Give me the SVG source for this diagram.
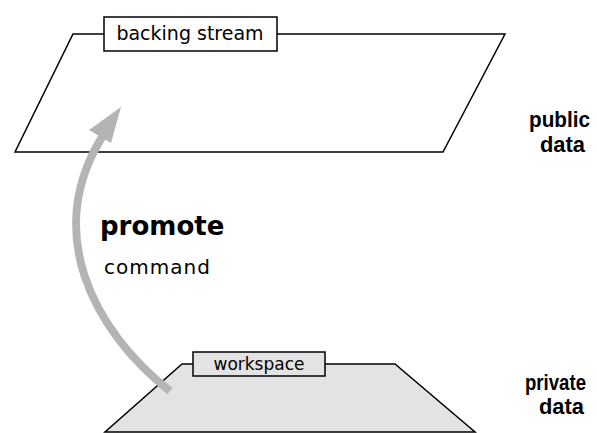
<svg xmlns="http://www.w3.org/2000/svg" width="597" height="433" viewBox="0 0 597 433">
<style>
.plane{stroke:#000;stroke-width:1.5;stroke-linejoin:miter}
.lbl{font-family:"DejaVu Sans",Verdana,sans-serif;fill:#000}
.side{font-family:"Liberation Sans",Arial,sans-serif;font-weight:bold;font-size:22px;fill:#000}
.box{stroke:#000;stroke-width:1.5}
</style>
<rect width="597" height="433" fill="#fff"/>
<g id="public-plane">
<polygon class="plane" points="73,34 505,34 443,152 15,152" fill="#fff"/>
</g>
<g id="backing-stream">
<rect class="box" x="104" y="17" width="173" height="34" fill="#fff"/>
<text class="lbl" x="190" y="40" font-size="19" text-anchor="middle">backing stream</text>
</g>
<g id="public-data">
<text class="side" x="529" y="127" textLength="61" lengthAdjust="spacingAndGlyphs">public</text>
<text class="side" x="540" y="152" textLength="45" lengthAdjust="spacingAndGlyphs">data</text>
</g>
<g id="private-plane">
<polygon class="plane" points="182,364 395,364 475,432 105,432" fill="#e3e3e3"/>
</g>
<g id="workspace">
<rect class="box" x="193" y="352" width="132" height="24" fill="#e3e3e3"/>
<text class="lbl" x="259" y="370" font-size="17" text-anchor="middle">workspace</text>
</g>
<g id="private-data">
<text class="side" x="525" y="390" textLength="61" lengthAdjust="spacingAndGlyphs">private</text>
<text class="side" x="539" y="414" textLength="45" lengthAdjust="spacingAndGlyphs">data</text>
</g>
<g id="connectors">
<path d="M170,391 C92,330 42,230 104,134" fill="none" stroke="#b4b4b4" stroke-width="8"/>
<polygon points="121,107 89,130 111,143" fill="#b4b4b4"/>
</g>
<g id="promote-label">
<text class="lbl" x="100" y="235" font-size="26" font-weight="bold">promote</text>
<text class="lbl" x="104" y="274" font-size="20" letter-spacing="1">command</text>
</g>
</svg>
